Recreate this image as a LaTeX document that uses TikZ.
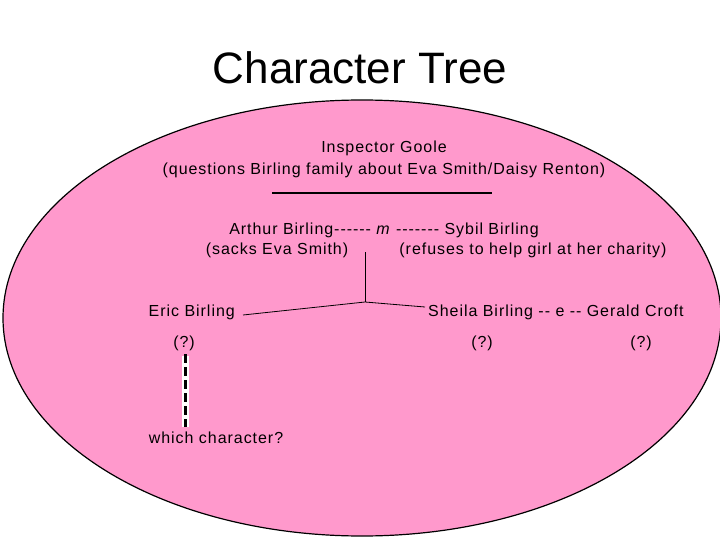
\documentclass[tikz,border=0pt]{standalone}
\usepackage{fontspec}
\setmainfont{Liberation Sans}
\newfontfamily\spaced[LetterSpace=6]{Liberation Sans}
\begin{document}
\begin{tikzpicture}[x=1pt,y=-1pt,
  txt/.style={inner sep=0pt,font=\spaced\fontsize{16}{19}\selectfont},
  ln/.style={draw=black,line width=0.8pt}]
\useasboundingbox (0,0) rectangle (720,540);
\fill[white] (0,0) rectangle (720,540);
\begin{scope}
\clip (0,0) rectangle (720,540);
\draw[fill={rgb,255:red,255;green,153;blue,204},line width=1.2pt] (362,318) ellipse [x radius=359, y radius=218];
\end{scope}
\node[inner sep=0pt,font=\fontsize{44}{52}\selectfont] (title) at (360,68) {Character Tree};
\node[txt] (ig) at (384,148) {Inspector Goole};
\node[txt] (igq) at (384,170) {(questions Birling family about Eva Smith/Daisy Renton)};
\coordinate (ul) at (272,193); \coordinate (ur) at (492,193);
\draw[line width=1.5pt] (ul) -- (ur);
\node[txt] (ab) at (384,230) {Arthur Birling-{}-{}-{}-{}-{}- \textit{m} -{}-{}-{}-{}-{}-{}- Sybil Birling};
\node[txt] (as) at (277,250) {(sacks Eva Smith)};
\node[txt] (sy) at (533,250) {(refuses to help girl at her charity)};
\node[txt,anchor=east] (eric) at (235,312) {Eric Birling};
\node[txt,anchor=west] (sh) at (428,312) {Sheila Birling -{}- e -{}- Gerald Croft};
\coordinate (top) at (365,252); \coordinate (j) at (365,302);
\coordinate (el) at (243,315); \coordinate (sr) at (425,307);
\draw[ln] (top) -- (j);
\draw[ln] (el) -- (j) -- (sr);
\node[txt] (q1) at (184,343) {(?)};
\node[txt] (q2) at (482,343) {(?)};
\node[txt] (q3) at (641,343) {(?)};
\coordinate (d1) at (185,356); \coordinate (d2) at (185,427);
\draw[white,line width=7pt] (d1) -- (d2);
\draw[black,line width=3pt,dash pattern=on 9pt off 4pt] ([yshift=2pt]d1) -- (d2);
\node[txt] (wc) at (216,438) {which character?};
\end{tikzpicture}
\end{document}
